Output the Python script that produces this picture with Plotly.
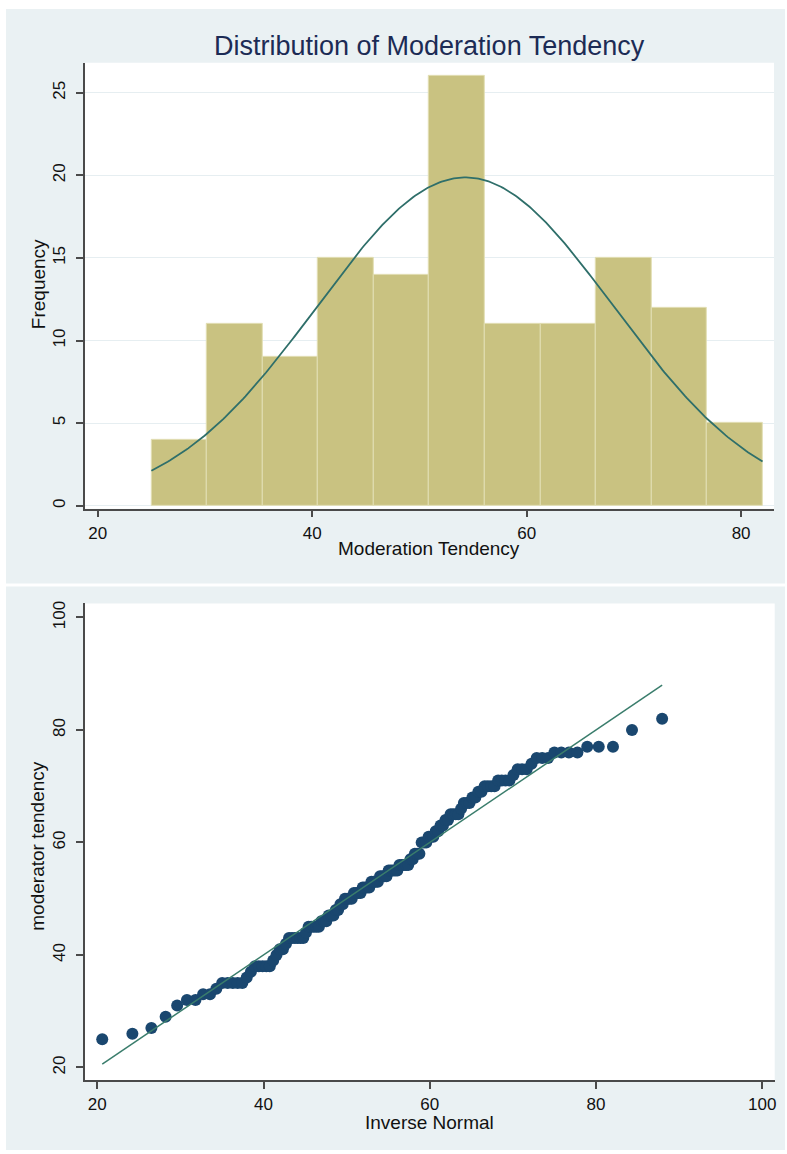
import numpy as np
import plotly.graph_objects as go
from statistics import NormalDist

# Moderation tendency scores (sorted), one entry per respondent
scores = [
    25, 26, 27, 29,
    31, 32, 32, 33, 33, 34, 35, 35, 35, 35, 35,
    36, 37, 38, 38, 38, 38, 38, 39, 40,
    41, 41, 42, 43, 43, 43, 43, 43, 43, 44, 45, 45, 45, 45, 45,
    46, 46, 46, 47, 47, 47, 48, 48, 49, 49, 50, 50, 50, 50,
    51, 51, 51, 51, 52, 52, 52, 52, 53, 53, 53, 53, 54, 54, 54, 54,
    55, 55, 55, 55, 55, 56, 56, 56, 56, 56,
    57, 57, 58, 58, 58, 60, 60, 60, 61, 61, 61,
    62, 62, 63, 63, 64, 64, 65, 65, 65, 65, 66,
    67, 67, 67, 68, 68, 69, 69, 70, 70, 70, 70, 71, 71, 71, 71,
    72, 73, 73, 73, 74, 75, 75, 75, 76, 76, 76, 76,
    77, 77, 77, 80, 82,
]
n_bins = 11
hist_ticks_x = [20, 40, 60, 80]
hist_ticks_y = [0, 5, 10, 15, 20, 25]
qq_ticks = [20, 40, 60, 80, 100]

# ---- statistics -------------------------------------------------------
vals = np.sort(np.array(scores, dtype=float))
n = len(vals)
counts, edges = np.histogram(vals, bins=n_bins, range=(vals.min(), vals.max()))
centers = (edges[:-1] + edges[1:]) / 2
bin_w = edges[1] - edges[0]
mu = vals.mean()
sd = vals.std(ddof=1)
dist = NormalDist(mu, sd)
curve_x = np.linspace(vals.min(), vals.max(), 300)
curve_y = [n * bin_w * dist.pdf(v) for v in curve_x]
inv_norm = [dist.inv_cdf(i / (n + 1)) for i in range(1, n + 1)]

# ---- page geometry ----------------------------------------------------
W, H = 787, 1154
def fx(px):
    return px / W
def fy(py):
    return 1 - py / H

PANEL = "#EAF1F3"
AXIS = "#4A4A4A"
TICK_FONT = dict(family="Liberation Sans, Arial, sans-serif", size=17, color="#111111")
TITLE_FAMILY = "Liberation Sans Narrow, Arial Narrow, Liberation Sans, sans-serif"

fig = go.Figure()

fig.add_trace(go.Bar(
    x=centers, y=counts, width=bin_w,
    marker=dict(color="#C9C281", line=dict(color="#E2DEB4", width=1)),
    xaxis="x", yaxis="y", hoverinfo="x+y",
))
fig.add_trace(go.Scatter(
    x=curve_x, y=curve_y, mode="lines",
    line=dict(color="#2F6F6A", width=1.8),
    xaxis="x", yaxis="y",
))
fig.add_trace(go.Scatter(
    x=inv_norm, y=vals, mode="markers",
    marker=dict(color="#1A476F", size=12, line=dict(width=0)),
    xaxis="x2", yaxis="y2",
))
fig.add_trace(go.Scatter(
    x=[inv_norm[0], inv_norm[-1]], y=[inv_norm[0], inv_norm[-1]], mode="lines",
    line=dict(color="#3A7D6C", width=1.5),
    xaxis="x2", yaxis="y2",
))

axis_common = dict(
    showline=True, linecolor=AXIS, linewidth=1.5,
    ticks="outside", ticklen=7, tickwidth=1.5, tickcolor=AXIS,
    tickfont=TICK_FONT, zeroline=False, fixedrange=True,
)

fig.update_layout(
    width=W, height=H,
    margin=dict(l=0, r=0, t=0, b=0),
    paper_bgcolor="white",
    plot_bgcolor="rgba(0,0,0,0)",
    showlegend=False,
    bargap=0,
    xaxis=dict(domain=[fx(85), fx(776)], range=[18.79, 83.07], anchor="y",
               tickvals=hist_ticks_x, showgrid=False, ticklabelstandoff=1, **axis_common),
    yaxis=dict(domain=[fy(507), fy(60)], range=[-0.18, 26.81], anchor="x",
               tickvals=hist_ticks_y, tickangle=-90, showgrid=True,
               gridcolor="#E6EEF1", gridwidth=1, ticklabelstandoff=4, **axis_common),
    xaxis2=dict(domain=[fx(85), fx(776.7)], range=[18.5, 101.5], anchor="y2",
                tickvals=qq_ticks, showgrid=False, ticklabelstandoff=1, **axis_common),
    yaxis2=dict(domain=[fy(1080), fy(602)], range=[17.74, 102.5], anchor="x2",
                tickvals=qq_ticks, tickangle=-90, showgrid=False, ticklabelstandoff=4,
                **axis_common),
    shapes=[
        dict(type="rect", xref="paper", yref="paper", x0=fx(6), x1=1, y0=fy(582), y1=fy(6),
             fillcolor=PANEL, line=dict(width=0), layer="below"),
        dict(type="rect", xref="paper", yref="paper", x0=fx(6), x1=1, y0=fy(1150), y1=fy(585),
             fillcolor=PANEL, line=dict(width=0), layer="below"),
        dict(type="rect", xref="paper", yref="paper", x0=fx(85), x1=fx(776), y0=fy(507), y1=fy(60),
             fillcolor="white", line=dict(width=0), layer="below"),
        dict(type="rect", xref="paper", yref="paper", x0=fx(85), x1=fx(776.7), y0=fy(1080), y1=fy(602),
             fillcolor="white", line=dict(width=0), layer="below"),
    ],
    annotations=[
        dict(text="Distribution of Moderation Tendency", x=fx(430.5), y=fy(43),
             xref="paper", yref="paper", showarrow=False, xanchor="center", yanchor="middle",
             font=dict(family=TITLE_FAMILY, size=27, color="#1C2B55")),
        dict(text="Moderation Tendency", x=fx(430), y=fy(547),
             xref="paper", yref="paper", showarrow=False, xanchor="center", yanchor="middle",
             font=dict(family=TITLE_FAMILY, size=19, color="#111111")),
        dict(text="Frequency", x=fx(38), y=fy(282), textangle=-90,
             xref="paper", yref="paper", showarrow=False, xanchor="center", yanchor="middle",
             font=dict(family=TITLE_FAMILY, size=19, color="#111111")),
        dict(text="moderator tendency", x=fx(38), y=fy(845), textangle=-90,
             xref="paper", yref="paper", showarrow=False, xanchor="center", yanchor="middle",
             font=dict(family=TITLE_FAMILY, size=19, color="#111111")),
        dict(text="Inverse Normal", x=fx(431), y=fy(1122),
             xref="paper", yref="paper", showarrow=False, xanchor="center", yanchor="middle",
             font=dict(family=TITLE_FAMILY, size=19, color="#111111")),
    ],
)

fig.write_html("out.html")
